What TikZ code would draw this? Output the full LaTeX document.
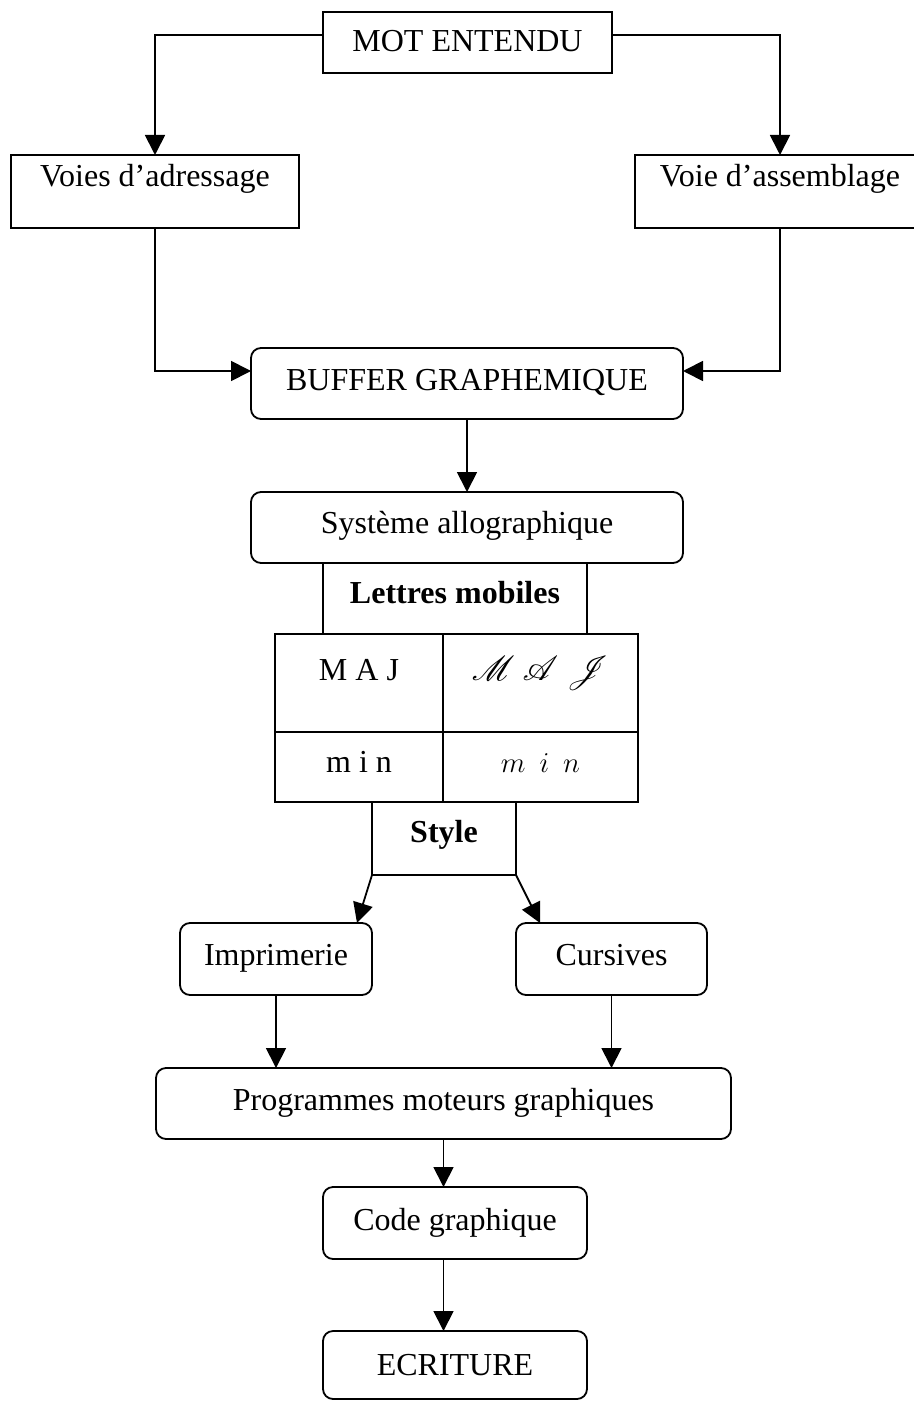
\documentclass[tikz,border=0pt]{standalone}
\usepackage{fontspec}
\setmainfont{Liberation Serif}
\usepackage{mathrsfs}
\usetikzlibrary{arrows.meta}
\begin{document}
\begin{tikzpicture}[x=0.5pt,y=-0.5pt,
  every node/.style={font=\fontsize{16}{19}\selectfont},
  box/.style={draw, line width=0.9pt, inner sep=0pt, outer sep=0pt, anchor=base},
  rbox/.style={box, rounded corners=5pt},
  arr/.style={line width=0.9pt, -{Triangle[length=10pt,width=10pt]}}]
\useasboundingbox (0,0) rectangle (914,1401);

% top level
\node[box, minimum width=144.5pt, text height=20pt, text depth=10.5pt] (mot) at (467.5,52) {MOT ENTENDU};
\node[box, minimum width=144pt, text height=16pt, text depth=20.5pt] (adr) at (155,187) {Voies d’adressage};
\node[box, minimum width=145pt, text height=16pt, text depth=20.5pt] (ass) at (780,187) {Voie d’assemblage};

% buffer and allographic system
\node[rbox, minimum width=216pt, text height=21pt, text depth=14.5pt] (buf) at (467,390) {BUFFER GRAPHEMIQUE};
\node[rbox, minimum width=216pt, text height=20.5pt, text depth=15pt] (sys) at (467,533) {Système allographique};
\node[box, minimum width=132pt, text height=20pt, text depth=15.5pt, font=\fontsize{16}{19}\selectfont\bfseries] (let) at (455,603) {Lettres mobiles};

% letter table
\node[box, minimum width=84pt, text height=23pt, text depth=26pt] (maj) at (359,680) {M A J};
\node[box, minimum width=97.5pt, text height=23pt, text depth=26pt] (majc) at (540.5,680) {$\mathscr{M}$\ $\mathscr{A}$\ $\mathscr{J}$};
\node[box, minimum width=84pt, text height=20pt, text depth=15pt] (minr) at (359,772) {m i n};
\node[box, minimum width=97.5pt, text height=20pt, text depth=15pt, font=\fontsize{14}{17}\selectfont] (minc) at (540.5,772) {$m$\ \ $i$\ \ $n$};
\node[box, minimum width=72pt, text height=20pt, text depth=16.5pt, font=\fontsize{16}{19}\selectfont\bfseries] (sty) at (444,842) {Style};

% styles
\node[rbox, minimum width=96pt, text height=21pt, text depth=15pt] (imp) at (276,965) {Imprimerie};
\node[rbox, minimum width=95.5pt, text height=21pt, text depth=15pt] (cur) at (611.5,965) {Cursives};

% motor output
\node[rbox, minimum width=287.5pt, text height=21pt, text depth=14.5pt] (prog) at (443.5,1110) {Programmes moteurs graphiques};
\node[rbox, minimum width=132pt, text height=21.5pt, text depth=14.5pt] (code) at (455,1230) {Code graphique};
\node[rbox, minimum width=132pt, text height=22pt, text depth=12pt] (ecr) at (455,1375) {ECRITURE};

% connectors
\draw[arr] ([yshift=3.75pt]mot.west) -| (adr.north);
\draw[arr] ([yshift=3.75pt]mot.east) -| (ass.north);
\draw[arr] (adr.south) |- ([yshift=6.25pt]buf.west);
\draw[arr] (ass.south) |- ([yshift=6.25pt]buf.east);
\draw[arr] (buf.south) -- (sys.north);
\draw[arr] (sty.south west) -- ([xshift=-7.5pt]imp.north east);
\draw[arr] (sty.south east) -- ([xshift=12pt]cur.north west);
\draw[arr] (imp.south) -- (imp.south |- prog.north);
\draw[arr] (cur.south) -- (cur.south |- prog.north);
\draw[arr] (prog.south) -- (prog.south |- code.north);
\draw[arr] (prog.south |- code.south) -- (prog.south |- ecr.north);
\end{tikzpicture}
\end{document}
